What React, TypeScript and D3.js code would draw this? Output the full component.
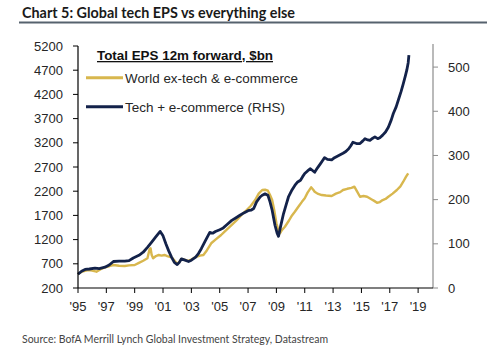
import React from "react";
import * as d3 from "d3";

// Tech + e-commerce EPS, $bn (RHS)
const techYears = [
  1995.0, 1995.25, 1995.5, 1995.8, 1996.2, 1996.5, 1996.9, 1997.2, 1997.5, 1997.9,
  1998.3, 1998.6, 1998.9, 1999.3, 1999.6, 1999.9, 2000.2, 2000.5, 2000.8, 2001.0,
  2001.2, 2001.4, 2001.6, 2001.8, 2002.0, 2002.15, 2002.3, 2002.55, 2002.8, 2003.0,
  2003.3, 2003.5, 2003.7, 2004.0, 2004.3, 2004.5, 2004.7, 2005.0, 2005.25, 2005.5,
  2005.85, 2006.1, 2006.4, 2006.7, 2007.0, 2007.2, 2007.4, 2007.6, 2007.85, 2008.0,
  2008.2, 2008.4, 2008.55, 2008.7, 2008.9, 2009.05, 2009.15, 2009.3, 2009.5, 2009.7,
  2009.85, 2010.1, 2010.3, 2010.5, 2010.7, 2010.85, 2011.0, 2011.2, 2011.4, 2011.55,
  2011.7, 2011.9, 2012.1, 2012.25, 2012.4, 2012.6, 2012.9, 2013.1, 2013.4, 2013.7,
  2013.9, 2014.1, 2014.25, 2014.4, 2014.65, 2014.9, 2015.1, 2015.25, 2015.45, 2015.6,
  2015.8, 2015.95, 2016.15, 2016.3, 2016.5, 2016.7, 2016.9, 2017.1, 2017.25, 2017.45,
  2017.6, 2017.8, 2017.95, 2018.1, 2018.2, 2018.3, 2018.35,
];
const techValues = [
  31, 38, 42, 43, 45, 44, 47, 52, 60, 61,
  61, 62, 68, 74, 81, 92, 104, 116, 128, 118,
  100, 84, 70, 58, 53, 58, 66, 63, 60, 63,
  70, 78, 89, 108, 126, 124, 128, 132, 136, 143,
  153, 158, 164, 170, 175, 176, 180, 195, 206, 210,
  213, 210, 195, 176, 142, 124, 117, 140, 168, 190,
  206, 222, 232, 240, 244, 252, 259, 265, 270, 266,
  262, 272, 281, 288, 295, 291, 290, 295, 300, 305,
  309, 315, 322, 330, 327, 327, 333, 338, 335, 334,
  339, 342, 338, 340, 346, 353, 364, 380, 395, 410,
  425, 445, 462, 480, 493, 510, 527,
];

// World ex-tech & e-commerce EPS, $bn (LHS)
const worldYears = [
  1995.0, 1995.3, 1995.7, 1996.0, 1996.3, 1996.6, 1996.9, 1997.2, 1997.5, 1997.9,
  1998.3, 1998.6, 1999.0, 1999.3, 1999.6, 1999.9, 2000.05, 2000.12, 2000.2, 2000.3,
  2000.5, 2000.7, 2000.9, 2001.1, 2001.3, 2001.6, 2001.8, 2002.0, 2002.15, 2002.3,
  2002.55, 2002.8, 2003.0, 2003.3, 2003.6, 2003.85, 2004.1, 2004.4, 2004.7, 2005.1,
  2005.4, 2005.85, 2006.2, 2006.5, 2006.9, 2007.2, 2007.5, 2007.75, 2008.0, 2008.2,
  2008.4, 2008.55, 2008.7, 2008.85, 2009.0, 2009.15, 2009.25, 2009.4, 2009.6, 2009.9,
  2010.1, 2010.3, 2010.6, 2010.8, 2011.0, 2011.2, 2011.45, 2011.6, 2011.7, 2011.9,
  2012.2, 2012.5, 2012.9, 2013.2, 2013.5, 2013.7, 2014.0, 2014.3, 2014.5, 2014.7,
  2014.9, 2015.15, 2015.4, 2015.7, 2015.9, 2016.1, 2016.3, 2016.5, 2016.7, 2016.9,
  2017.2, 2017.5, 2017.75, 2017.95, 2018.15, 2018.3,
];
const worldValues = [
  490, 540, 572, 560, 537, 590, 628, 650, 675, 660,
  655, 668, 675, 720, 764, 814, 1000, 1020, 880, 814,
  860, 882, 870, 882, 860, 834, 770, 700, 740, 800,
  780, 760, 790, 840, 870, 882, 980, 1124, 1200, 1295,
  1380, 1502, 1600, 1700, 1811, 1900, 2018, 2150, 2225, 2230,
  2210, 2120, 2018, 1800, 1537, 1380, 1330, 1400, 1466, 1600,
  1700, 1776, 1900, 1980, 2053, 2170, 2280, 2230, 2190, 2150,
  2121, 2110, 2101, 2150, 2180, 2225, 2250, 2270, 2293, 2190,
  2086, 2100, 2086, 2033, 2000, 1962, 1975, 2018, 2040, 2086,
  2150, 2225, 2300, 2396, 2500, 2570,
];

const leftTicks = [200, 700, 1200, 1700, 2200, 2700, 3200, 3700, 4200, 4700, 5200];
const rightTicks = [0, 100, 200, 300, 400, 500];
const xTicks = [1995, 1997, 1999, 2001, 2003, 2005, 2007, 2009, 2011, 2013, 2015, 2017, 2019];

const GOLD = "#d8b74e";
const NAVY = "#13224a";
const AXIS_FONT = "'Liberation Sans', Arial, sans-serif";

export default function App() {
  const x = d3.scaleLinear().domain([1995, 2020.05]).range([78, 433]);
  const yL = d3.scaleLinear().domain([200, 5200]).range([288, 46]);
  const yR = d3.scaleLinear().domain([0, 550]).range([288, 45]);

  const worldLine = d3
    .line<number>()
    .x((d, i) => x(worldYears[i]))
    .y((d) => yL(d));
  const techLine = d3
    .line<number>()
    .x((d, i) => x(techYears[i]))
    .y((d) => yR(d));

  return (
    <svg
      width={500}
      height={358}
      style={{ position: "absolute", left: 0, top: 0, background: "#fff" }}
    >
      {/* title */}
      <text
        x={22}
        y={18}
        fontFamily="Lato, 'Open Sans', sans-serif"
        fontWeight="bold"
        fontSize={15}
        fill="#1a1a1a"
        textLength={273}
        lengthAdjust="spacingAndGlyphs"
      >
        Chart 5: Global tech EPS vs everything else
      </text>
      <line x1={19} x2={487} y1={22.5} y2={22.5} stroke="#56626e" strokeWidth={1.8} />

      {/* lines */}
      <path d={worldLine(worldValues) || ""} fill="none" stroke={GOLD} strokeWidth={2.4} strokeLinejoin="round" />
      <path d={techLine(techValues) || ""} fill="none" stroke={NAVY} strokeWidth={2.8} strokeLinejoin="round" />

      {/* left axis */}
      <line x1={78} x2={78} y1={yL(5200)} y2={288} stroke="#000" strokeWidth={1.2} />
      {leftTicks.map((t) => (
        <g key={t}>
          <line x1={73} x2={78} y1={yL(t)} y2={yL(t)} stroke="#000" strokeWidth={1} />
          <text
            x={63}
            y={yL(t)}
            dy="0.35em"
            textAnchor="end"
            fontFamily={AXIS_FONT}
            fontSize={13}
            fill="#262626"
          >
            {t}
          </text>
        </g>
      ))}

      {/* right axis */}
      <line x1={433} x2={433} y1={44} y2={288} stroke="#8c8c8c" strokeWidth={1.2} />
      {rightTicks.map((t) => (
        <g key={t}>
          <line x1={433} x2={438} y1={yR(t)} y2={yR(t)} stroke="#8c8c8c" strokeWidth={1} />
          <text
            x={448}
            y={yR(t)}
            dy="0.35em"
            fontFamily={AXIS_FONT}
            fontSize={13}
            fill="#262626"
          >
            {t}
          </text>
        </g>
      ))}

      {/* x axis */}
      <line x1={78} x2={433} y1={288} y2={288} stroke="#000" strokeWidth={1.2} />
      {xTicks.map((t) => (
        <g key={t}>
          <line x1={x(t)} x2={x(t)} y1={288} y2={293} stroke="#000" strokeWidth={1} />
          <text
            x={x(t)}
            y={311}
            textAnchor="middle"
            fontFamily={AXIS_FONT}
            fontSize={13}
            fill="#262626"
          >
            {"'" + String(t).slice(2)}
          </text>
        </g>
      ))}

      {/* legend */}
      <text
        x={97}
        y={60}
        fontFamily={AXIS_FONT}
        fontWeight="bold"
        fontSize={13}
        fill="#111"
        textDecoration="underline"
        textLength={176}
        lengthAdjust="spacingAndGlyphs"
      >
        Total EPS 12m forward, $bn
      </text>
      <line x1={86} x2={123} y1={77.7} y2={77.7} stroke={GOLD} strokeWidth={3} />
      <text x={125} y={83} fontFamily={AXIS_FONT} fontSize={13} fill="#262626" textLength={173} lengthAdjust="spacingAndGlyphs">
        World ex-tech &amp; e-commerce
      </text>
      <line x1={86} x2={123} y1={106.7} y2={106.7} stroke={NAVY} strokeWidth={3} />
      <text x={125} y={111.5} fontFamily={AXIS_FONT} fontSize={13} fill="#262626" textLength={160} lengthAdjust="spacingAndGlyphs">
        Tech + e-commerce (RHS)
      </text>

      {/* source */}
      <text
        x={22}
        y={343}
        fontFamily="Lato, 'Open Sans', sans-serif"
        fontSize={11.5}
        fill="#444"
        textLength={306}
        lengthAdjust="spacingAndGlyphs"
      >
        Source: BofA Merrill Lynch Global Investment Strategy, Datastream
      </text>
    </svg>
  );
}
